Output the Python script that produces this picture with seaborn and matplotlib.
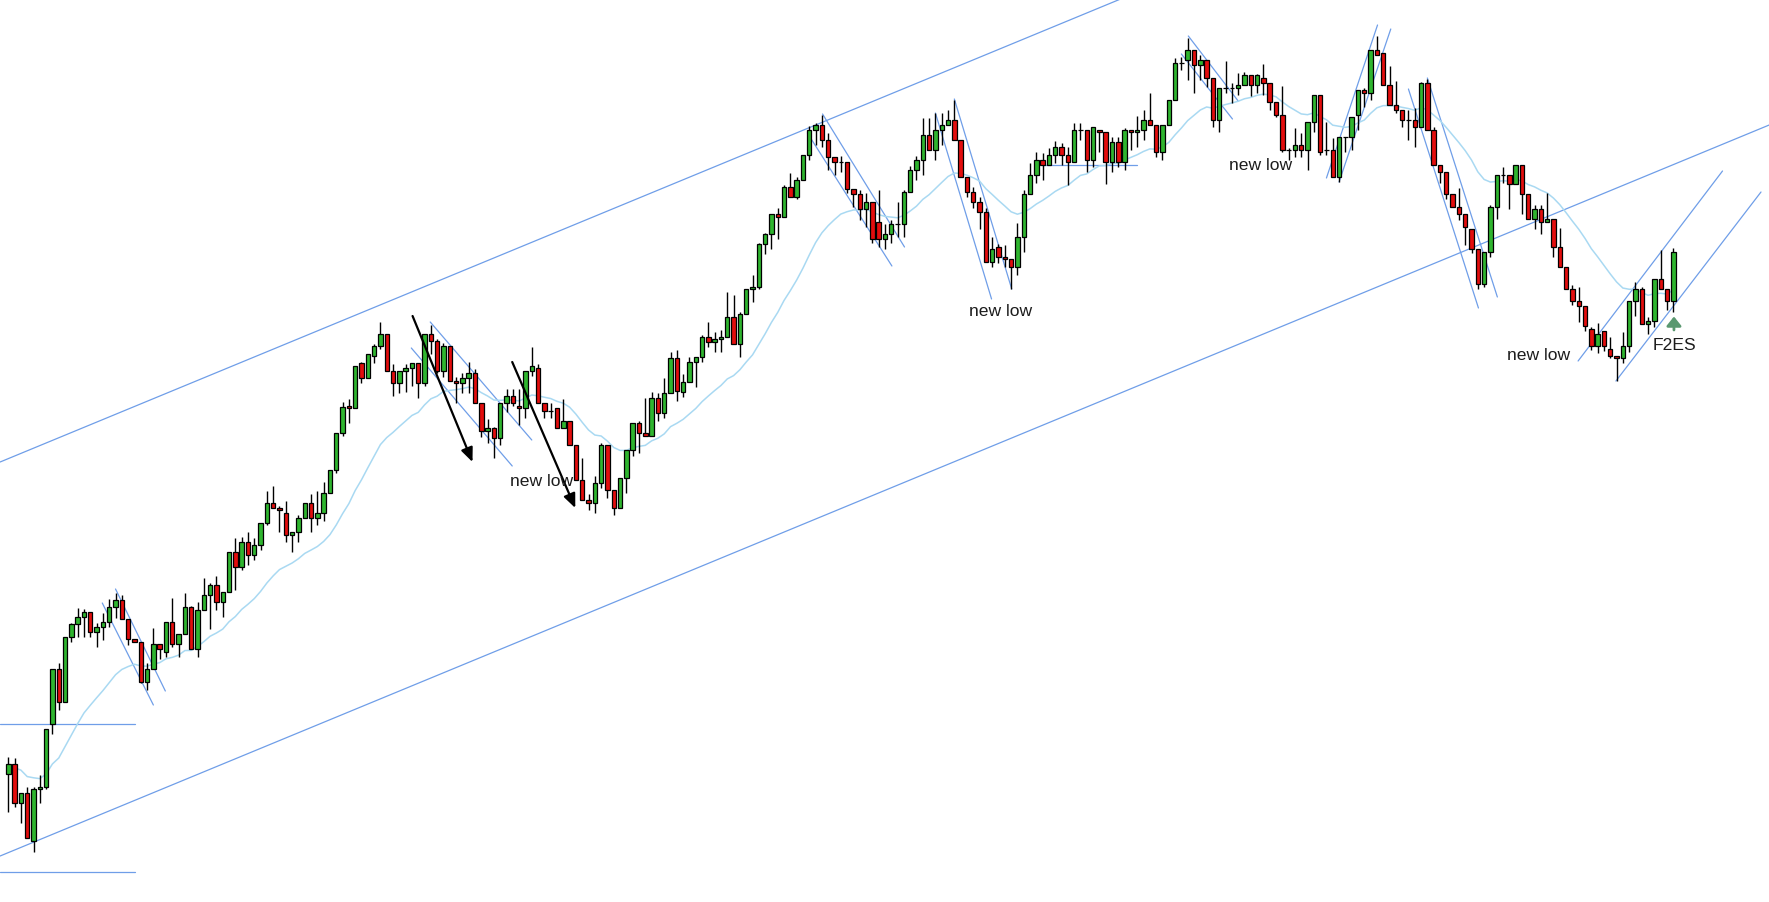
import numpy as np
import pandas as pd
import matplotlib
matplotlib.use("Agg")
import matplotlib.pyplot as plt
import seaborn as sns

# OHLC (one candle per bar, oldest first)
opens = [128, 138, 99, 109, 61, 113, 115, 178, 233, 200,
         265, 278, 285, 290, 270, 275, 280, 295, 302, 283,
         263, 260, 220, 233, 258, 250, 280, 258, 268, 295,
         253, 292, 307, 317, 300, 310, 350, 335, 360, 347,
         357, 379, 399, 394, 389, 367, 370, 384, 399, 384,
         389, 409, 432, 469, 496, 494, 539, 524, 546, 556,
         568, 531, 519, 531, 534, 539, 519, 568, 561, 531,
         556, 521, 519, 524, 529, 499, 471, 474, 464, 499,
         506, 496, 494, 531, 534, 499, 491, 494, 474, 481,
         457, 422, 402, 399, 419, 457, 412, 394, 424, 452,
         479, 469, 466, 504, 489, 509, 544, 510, 520, 540,
         545, 565, 560, 563, 565, 585, 558, 588, 613, 615,
         658, 668, 688, 685, 715, 705, 722, 747, 772, 777,
         762, 745, 740, 740, 713, 708, 693, 700, 680, 663,
         668, 678, 678, 710, 732, 742, 767, 752, 772, 777,
         782, 762, 725, 710, 700, 690, 640, 655, 645, 643,
         635, 665, 708, 727, 742, 737, 747, 755, 747, 740,
         772, 772, 742, 772, 770, 740, 760, 740, 772, 770,
         772, 782, 777, 750, 777, 802, 839, 842, 852, 837,
         842, 824, 782, 814, 814, 814, 817, 827, 817, 824,
         819, 800, 787, 752, 752, 757, 752, 780, 807, 752,
         752, 725, 765, 765, 787, 812, 809, 852, 849, 817,
         797, 792, 782, 782, 775, 819, 772, 737, 730, 708,
         695, 688, 673, 653, 618, 650, 695, 727, 727, 718,
         737, 708, 683, 693, 680, 683, 655, 635, 613, 601,
         596, 573, 556, 571, 553, 546, 544, 556, 601, 613,
         578, 581, 623, 613, 601]
closes = [138, 99, 109, 64, 113, 115, 173, 233, 200, 265,
          278, 285, 290, 270, 275, 280, 295, 302, 283, 263,
          260, 220, 233, 258, 253, 280, 258, 268, 295, 253,
          292, 307, 317, 300, 310, 350, 335, 360, 347, 357,
          379, 399, 394, 392, 367, 370, 384, 399, 384, 389,
          409, 432, 469, 495, 494, 536, 524, 548, 556, 568,
          531, 519, 531, 534, 539, 519, 568, 561, 531, 556,
          521, 519, 524, 529, 499, 471, 474, 464, 499, 506,
          499, 494, 531, 536, 499, 491, 491, 474, 481, 457,
          422, 402, 399, 419, 457, 412, 394, 424, 452, 479,
          469, 466, 504, 489, 509, 544, 511, 520, 540, 545,
          565, 560, 563, 565, 585, 558, 588, 613, 615, 658,
          668, 688, 685, 715, 705, 722, 747, 772, 777, 762,
          745, 740, 740, 713, 708, 693, 700, 663, 663, 668,
          678, 678, 710, 732, 742, 767, 752, 772, 777, 782,
          762, 725, 710, 700, 690, 640, 653, 645, 643, 635,
          665, 708, 727, 742, 737, 747, 755, 747, 740, 772,
          772, 742, 775, 770, 740, 760, 740, 772, 770, 772,
          782, 777, 750, 777, 802, 839, 839, 852, 837, 842,
          824, 782, 814, 814, 814, 817, 827, 817, 827, 819,
          800, 787, 752, 752, 757, 752, 780, 807, 750, 752,
          725, 765, 765, 785, 812, 809, 852, 847, 817, 797,
          792, 782, 782, 775, 819, 772, 737, 730, 708, 695,
          688, 675, 653, 618, 650, 695, 727, 727, 718, 737,
          708, 683, 693, 680, 683, 655, 635, 613, 601, 596,
          576, 556, 568, 556, 546, 544, 556, 601, 613, 578,
          581, 623, 613, 601, 650]
highs = [145, 144, 109, 115, 115, 127, 173, 233, 239, 265,
         279, 294, 293, 290, 279, 289, 303, 309, 307, 283,
         263, 260, 239, 274, 258, 280, 304, 268, 309, 296,
         300, 324, 319, 326, 310, 350, 364, 365, 370, 364,
         379, 411, 416, 396, 401, 370, 387, 399, 408, 411,
         420, 432, 469, 500, 503, 536, 540, 548, 558, 580,
         568, 538, 531, 538, 539, 539, 568, 577, 563, 559,
         556, 525, 529, 540, 533, 499, 483, 475, 499, 513,
         513, 513, 531, 555, 538, 499, 499, 494, 503, 481,
         457, 444, 408, 426, 459, 457, 412, 424, 452, 479,
         481, 504, 510, 509, 524, 550, 552, 528, 545, 545,
         567, 580, 570, 572, 610, 607, 590, 613, 627, 659,
         669, 688, 694, 717, 729, 725, 747, 776, 779, 787,
         769, 745, 746, 740, 713, 712, 709, 700, 712, 678,
         682, 700, 712, 736, 746, 784, 784, 789, 789, 792,
         802, 762, 725, 715, 705, 694, 665, 658, 657, 643,
         679, 712, 739, 750, 749, 754, 761, 759, 755, 779,
         779, 772, 775, 772, 770, 765, 765, 774, 772, 786,
         792, 809, 777, 777, 802, 844, 845, 864, 852, 847,
         842, 824, 814, 841, 819, 829, 830, 827, 828, 838,
         819, 800, 816, 754, 774, 769, 780, 807, 807, 780,
         764, 765, 765, 785, 812, 814, 852, 866, 849, 836,
         821, 792, 792, 794, 820, 823, 775, 737, 730, 708,
         714, 688, 673, 653, 650, 697, 727, 735, 727, 737,
         737, 708, 697, 697, 709, 683, 674, 635, 617, 615,
         596, 575, 579, 571, 565, 546, 570, 601, 620, 615,
         585, 623, 652, 613, 654]
lows = [90, 95, 79, 64, 50, 99, 113, 168, 192, 200,
        260, 265, 265, 265, 255, 262, 275, 284, 283, 257,
        260, 219, 212, 233, 243, 245, 255, 245, 268, 253,
        245, 292, 273, 292, 285, 310, 312, 332, 337, 342,
        352, 377, 394, 370, 360, 350, 360, 384, 370, 377,
        381, 409, 429, 466, 479, 494, 519, 524, 539, 553,
        531, 506, 509, 510, 516, 504, 516, 548, 529, 525,
        521, 499, 509, 509, 499, 465, 459, 444, 457, 490,
        496, 477, 484, 526, 499, 484, 484, 474, 474, 457,
        422, 402, 392, 389, 414, 404, 387, 394, 409, 446,
        449, 466, 466, 481, 484, 509, 501, 505, 520, 515,
        540, 555, 550, 550, 565, 558, 545, 588, 600, 613,
        648, 653, 663, 685, 705, 703, 722, 742, 757, 755,
        732, 727, 730, 709, 695, 682, 675, 659, 655, 653,
        659, 665, 665, 710, 722, 727, 752, 742, 757, 777,
        762, 725, 705, 694, 673, 640, 635, 639, 635, 613,
        627, 650, 708, 719, 722, 737, 739, 737, 717, 740,
        762, 730, 735, 750, 718, 730, 735, 732, 752, 755,
        762, 777, 745, 742, 777, 802, 832, 822, 809, 822,
        815, 775, 770, 809, 799, 807, 817, 806, 809, 807,
        792, 785, 750, 742, 745, 745, 732, 770, 747, 747,
        725, 720, 750, 752, 772, 795, 802, 847, 817, 797,
        789, 775, 762, 755, 775, 772, 737, 719, 703, 695,
        682, 657, 649, 613, 615, 645, 683, 719, 693, 718,
        688, 683, 673, 668, 680, 645, 635, 613, 597, 580,
        571, 552, 549, 551, 544, 521, 539, 550, 586, 578,
        568, 575, 613, 592, 590]

# hand-drawn lines, as (bar, price) end points
channel_lines = [((-1.3, 440), (177.9, 907)), ((-1.3, 46), (279.2, 777))]
level_lines = [((-1.3, 178), (20.1, 178)), ((-1.3, 30.5), (20.1, 30.5)),
               ((163.9, 737), (178.9, 737))]
swing_lines = [((14.9, 299), (23.0, 197)), ((17.0, 313), (24.9, 211)),
               ((66.9, 580), (83.0, 462)), ((63.9, 554), (79.9, 436)),
               ((126.7, 769), (140.1, 636)), ((129.1, 788), (142.1, 655)),
               ((147.0, 789), (155.9, 603)), ((150.0, 803), (159.1, 613)),
               ((187.1, 866), (195.0, 801)), ((186.0, 848), (194.1, 783)),
               ((209.0, 724), (217.1, 877)), ((211.0, 720), (219.2, 873)),
               ((222.0, 813), (233.1, 594)), ((225.0, 824), (236.1, 605)),
               ((248.9, 541), (271.8, 731)), ((254.9, 521), (277.9, 710))]
black_arrows = [((64.1, 586), (73.6, 440)), ((79.9, 540), (89.9, 394))]
notes = [(84.5, 421, "new low"), (157.4, 590, "new low"),
         (198.5, 737, "new low"), (242.6, 546, "new low"),
         (264.1, 557, "F2ES")]

sns.set_theme(style="white")
plt.rcParams["font.family"] = ["Liberation Sans", "DejaVu Sans"]

df = pd.DataFrame({"open": opens, "high": highs, "low": lows, "close": closes})
df["bar"] = np.arange(len(df))
df["ema"] = df["close"].ewm(span=20, adjust=False).mean()
up = df["close"] >= df["open"]

fig = plt.figure(figsize=(17.69, 9.02), dpi=100)
ax = fig.add_axes([0, 0, 1, 1])
ax.set_xlim(-1.316, 279.17)
ax.set_ylim(0, 902)
ax.axis("off")

line_col = "#6f9ee8"
for (x0, y0), (x1, y1) in channel_lines + level_lines + swing_lines:
    ax.plot([x0, x1], [y0, y1], color=line_col, lw=0.9, zorder=1)

sns.lineplot(data=df, x="bar", y="ema", color="#a9d9f2", lw=1.1, ax=ax, zorder=1)

ax.vlines(df["bar"], df["low"], df["high"], color="black", lw=1.0, zorder=2)
ax.bar(df["bar"], (df["close"] - df["open"]).abs(),
       bottom=df[["open", "close"]].min(axis=1), width=0.7,
       color=np.where(up, "#2fb52f", "#e30d0d"), edgecolor="black",
       linewidth=0.9, zorder=3)

for (x0, y0), (x1, y1) in black_arrows:
    ax.annotate("", xy=(x1, y1), xytext=(x0, y0),
                arrowprops=dict(arrowstyle="-|>,head_length=0.7,head_width=0.3",
                                color="black", lw=1.6, mutation_scale=12,
                                shrinkA=0, shrinkB=0), zorder=4)

ax.annotate("", xy=(264.1, 585.5), xytext=(264.1, 572),
            arrowprops=dict(arrowstyle="-|>,head_length=0.5,head_width=0.4",
                            color="#5a9870", lw=2.0, mutation_scale=11,
                            shrinkA=0, shrinkB=0), zorder=4)

for x, y, s in notes:
    ax.text(x, y, s, ha="center", va="center", fontsize=12.6, color="#1c1c1c", zorder=5)

fig.savefig("out.png", dpi=100)
